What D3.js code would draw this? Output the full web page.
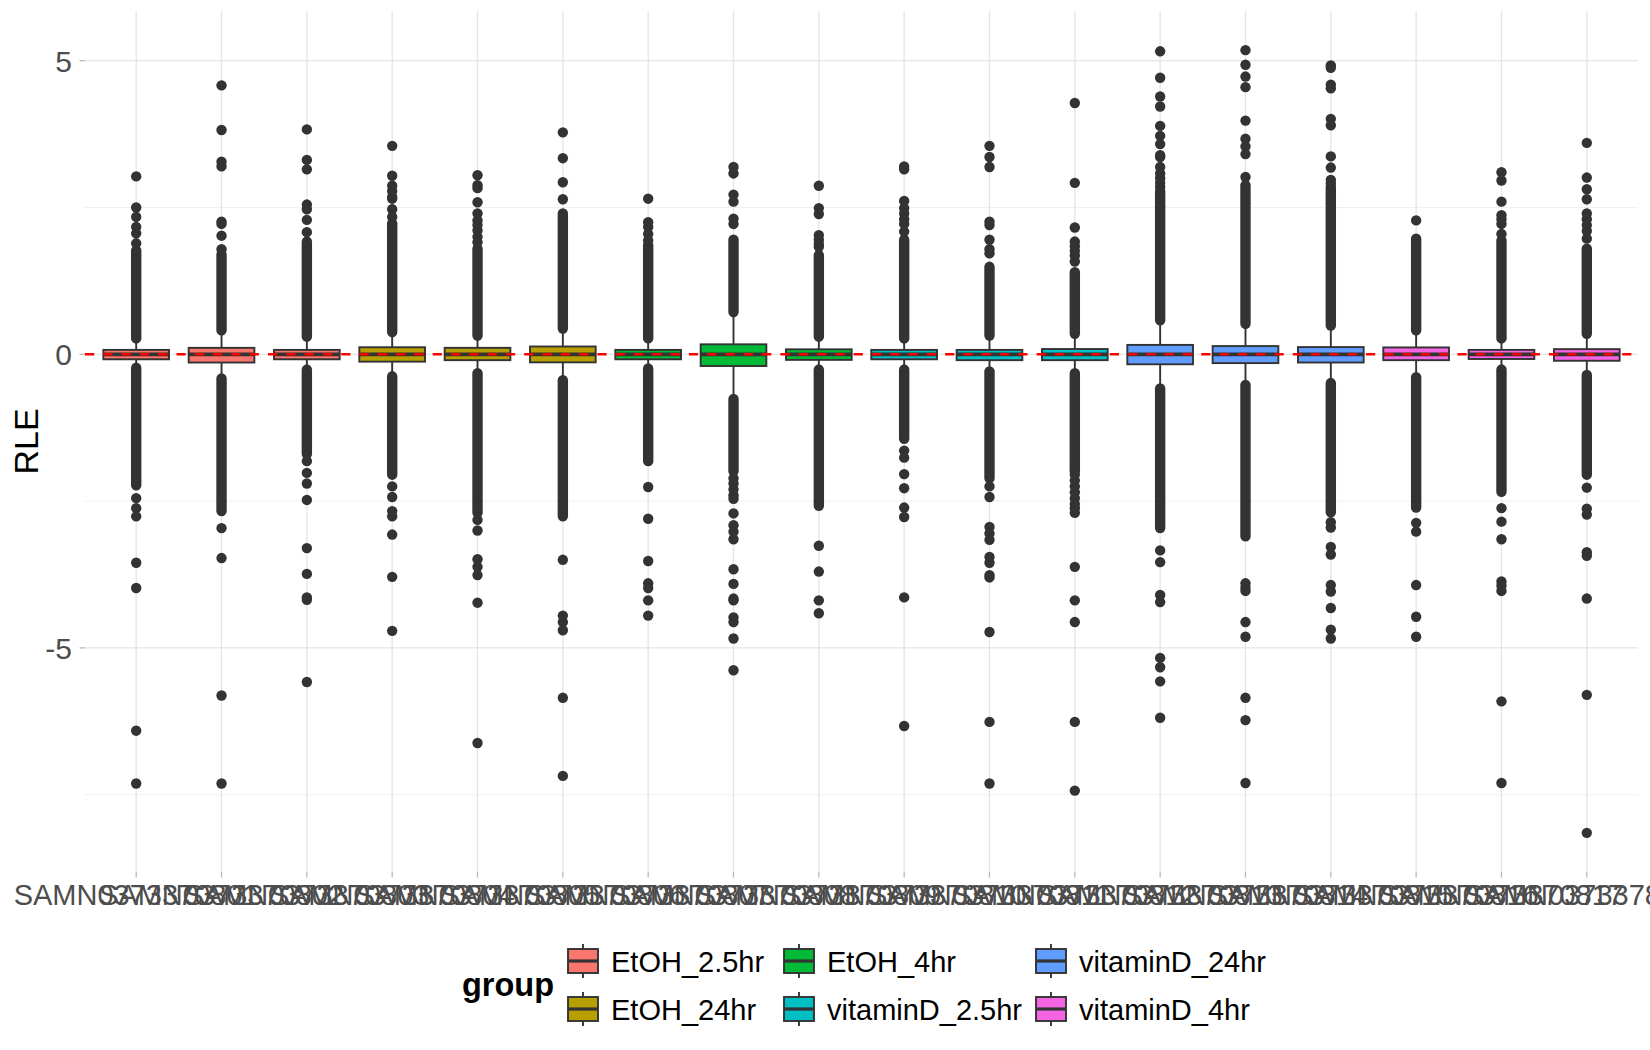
<!DOCTYPE html>
<html>
<head>
<meta charset="utf-8">
<script src="https://cdn.jsdelivr.net/npm/d3@7"></script>
<style>
  body { margin: 0; background: #fff; }
  svg { display: block; font-family: "Liberation Sans", Arial, sans-serif; }
</style>
</head>
<body>
<svg id="chart"></svg>
<script>
// sample ids on the x axis (overlapping labels in the original)
const samples = [
  "SAMN0373370801", "SAMN0373370802", "SAMN0373370803", "SAMN0373370804",
  "SAMN0373370805", "SAMN0373370806", "SAMN0373370807", "SAMN0373370808",
  "SAMN0373370809", "SAMN0373370810", "SAMN0373370811", "SAMN0373370812",
  "SAMN0373370813", "SAMN0373370814", "SAMN0373370815", "SAMN0373370816",
  "SAMN0373370817", "SAMN0373378837"
];
const groups = ["EtOH_2.5hr", "EtOH_24hr", "EtOH_4hr", "vitaminD_2.5hr", "vitaminD_24hr", "vitaminD_4hr"];
const groupColors = ["#F8766D", "#B79F00", "#00BA38", "#00BFC4", "#619CFF", "#F564E3"];
const sampleGroup = [0, 0, 0, 1, 1, 1, 2, 2, 2, 3, 3, 3, 4, 4, 4, 5, 5, 5];

// box statistics per sample
const q1     = [-0.085, -0.14, -0.085, -0.125, -0.10, -0.137, -0.085, -0.20, -0.095, -0.085, -0.10, -0.10, -0.17, -0.15, -0.14, -0.10, -0.08, -0.11];
const median = [0, 0, 0, 0, 0, 0, 0, 0, 0, 0, 0, 0, 0, 0, 0, 0, 0, 0];
const q3     = [0.075, 0.11, 0.075, 0.12, 0.11, 0.133, 0.075, 0.17, 0.085, 0.075, 0.075, 0.09, 0.16, 0.14, 0.123, 0.117, 0.075, 0.088];
const whiskerLow  = [-0.20, -0.37, -0.23, -0.35, -0.29, -0.41, -0.20, -0.73, -0.23, -0.22, -0.25, -0.28, -0.55, -0.46, -0.46, -0.35, -0.20, -0.29];
const whiskerHigh = [0.19, 0.36, 0.25, 0.33, 0.27, 0.39, 0.19, 0.70, 0.25, 0.22, 0.27, 0.30, 0.52, 0.48, 0.45, 0.36, 0.21, 0.30];

// runs of outliers so dense they merge into a solid column
const denseUpper = [
  [0.27, 1.77], [0.41, 1.70], [0.30, 1.92], [0.38, 2.23], [0.32, 1.80], [0.44, 2.40],
  [0.27, 1.86], [0.72, 1.95], [0.30, 1.69], [0.27, 1.95], [0.32, 1.49], [0.35, 1.40],
  [0.58, 2.74], [0.52, 2.88], [0.49, 2.85], [0.41, 1.97], [0.27, 1.94], [0.35, 1.80]
];
const denseLower = [
  [-2.23, -0.23], [-2.67, -0.41], [-1.70, -0.26], [-2.05, -0.375], [-2.70, -0.32], [-2.76, -0.44],
  [-1.82, -0.24], [-1.99, -0.76], [-2.58, -0.26], [-1.44, -0.26], [-2.11, -0.29], [-1.99, -0.32],
  [-2.96, -0.58], [-3.10, -0.52], [-2.69, -0.49], [-2.61, -0.39], [-2.34, -0.26], [-2.05, -0.35]
];
// individually visible outliers
const outliers = [
  [3.03, 2.50, 2.34, 2.17, 2.06, 1.89, -2.45, -2.62, -2.76, -3.55, -3.98, -6.41, -7.31],
  [4.58, 3.82, 3.28, 3.20, 2.26, 2.22, 2.02, 1.79, -2.96, -3.47, -5.81, -7.31],
  [3.83, 3.31, 3.15, 2.55, 2.47, 2.29, 2.08, -1.82, -2.02, -2.20, -2.48, -3.30, -3.74, -4.14, -4.18, -5.58],
  [3.55, 3.04, 2.87, 2.78, 2.68, 2.65, 2.47, 2.34, -2.25, -2.43, -2.67, -2.76, -3.07, -3.79, -4.71],
  [3.05, 2.88, 2.83, 2.59, 2.40, 2.28, 2.20, 2.11, 2.00, 1.91, -2.82, -3.00, -3.49, -3.62, -3.76, -4.23, -6.62],
  [3.78, 3.34, 2.93, 2.64, -3.50, -4.45, -4.56, -4.70, -5.85, -7.18],
  [2.65, 2.25, 2.17, 2.05, 1.94, -2.26, -2.80, -3.52, -3.90, -3.98, -4.19, -4.45],
  [3.19, 3.08, 2.72, 2.60, 2.31, 2.22, -2.11, -2.20, -2.30, -2.40, -2.46, -2.71, -2.91, -3.02, -3.15, -3.66, -3.91, -4.16, -4.19, -4.48, -4.56, -4.84, -5.38],
  [2.87, 2.49, 2.39, 2.03, 1.95, 1.88, 1.83, -3.26, -3.70, -4.19, -4.41],
  [3.20, 3.15, 2.61, 2.49, 2.40, 2.30, 2.22, 2.09, -1.64, -1.76, -2.04, -2.28, -2.61, -2.77, -4.14, -6.33],
  [3.55, 3.36, 3.19, 2.26, 2.20, 1.95, 1.79, 1.72, -2.25, -2.43, -2.94, -3.05, -3.16, -3.45, -3.55, -3.76, -3.80, -4.73, -6.26, -7.31],
  [4.28, 2.92, 2.16, 1.92, 1.84, 1.76, 1.68, 1.58, -2.05, -2.15, -2.25, -2.35, -2.45, -2.55, -2.62, -2.70, -3.62, -4.19, -4.56, -6.26, -7.43],
  [5.16, 4.71, 4.39, 4.22, 3.89, 3.72, 3.58, 3.39, 3.36, 3.19, 3.08, 3.00, 2.92, 2.85, 2.78, -3.34, -3.54, -4.10, -4.22, -5.17, -5.33, -5.57, -6.19],
  [5.18, 4.93, 4.73, 4.55, 3.98, 3.67, 3.54, 3.41, 3.02, -3.90, -3.97, -4.03, -4.56, -4.81, -5.85, -6.23, -7.30],
  [4.92, 4.88, 4.59, 4.53, 4.01, 3.90, 3.37, 3.18, 2.97, 2.91, -2.86, -2.95, -3.28, -3.41, -3.93, -4.04, -4.32, -4.69, -4.84],
  [2.28, -2.87, -3.02, -3.93, -4.47, -4.81],
  [3.10, 2.96, 2.60, 2.37, 2.30, 2.22, 2.05, -2.62, -2.85, -3.15, -3.87, -3.94, -4.03, -5.91, -7.30],
  [3.60, 3.01, 2.81, 2.64, 2.40, 2.30, 2.20, 2.10, 1.97, -2.27, -2.63, -2.73, -3.37, -3.43, -4.16, -5.80, -8.15]
];
const yMajor = [-5, 0, 5];
const yMinor = [-7.5, -2.5, 2.5];
const refLine = 0;

// layout
const W = 1650, H = 1050;
const panel = { left: 85, right: 1638, top: 11, bottom: 872 };
const ink = "#333333";
const ptR = 5.2;

const svg = d3.select("#chart").attr("width", W).attr("height", H);
svg.append("rect").attr("width", W).attr("height", H).attr("fill", "#fff");

const x = d3.scalePoint().domain(samples).range([panel.left, panel.right]).padding(0.6);
const step = x.step();
const boxW = step * 0.77;

const allVals = outliers.flat().concat(denseUpper.flat(), denseLower.flat(), whiskerLow, whiskerHigh);
const [vMin, vMax] = d3.extent(allVals);
const pad = (vMax - vMin) * 0.05;
const y = d3.scaleLinear().domain([vMin - pad, vMax + pad]).range([panel.bottom, panel.top]);

// grid
const grid = svg.append("g");
grid.selectAll(".minor").data(yMinor).join("line")
  .attr("x1", panel.left).attr("x2", panel.right)
  .attr("y1", d => y(d)).attr("y2", d => y(d))
  .attr("stroke", "#F0F0F0").attr("stroke-width", 1);
grid.selectAll(".major").data(yMajor).join("line")
  .attr("x1", panel.left).attr("x2", panel.right)
  .attr("y1", d => y(d)).attr("y2", d => y(d))
  .attr("stroke", "#E5E5E5").attr("stroke-width", 1.3);
grid.selectAll(".vx").data(samples).join("line")
  .attr("x1", d => x(d)).attr("x2", d => x(d))
  .attr("y1", panel.top).attr("y2", panel.bottom)
  .attr("stroke", "#E5E5E5").attr("stroke-width", 1.3);

// boxplots
const boxes = svg.append("g");
samples.forEach((s, i) => {
  const cx = x(s);
  const g = boxes.append("g");
  const col = groupColors[sampleGroup[i]];

  [denseUpper[i], denseLower[i]].forEach(([lo, hi]) => {
    g.append("line")
      .attr("x1", cx).attr("x2", cx)
      .attr("y1", y(lo)).attr("y2", y(hi))
      .attr("stroke", ink).attr("stroke-width", ptR * 2)
      .attr("stroke-linecap", "round");
  });
  g.selectAll("circle").data(outliers[i]).join("circle")
    .attr("cx", cx).attr("cy", d => y(d)).attr("r", ptR)
    .attr("fill", ink);

  // whiskers
  g.append("line").attr("x1", cx).attr("x2", cx)
    .attr("y1", y(q3[i])).attr("y2", y(whiskerHigh[i]))
    .attr("stroke", ink).attr("stroke-width", 1.9);
  g.append("line").attr("x1", cx).attr("x2", cx)
    .attr("y1", y(q1[i])).attr("y2", y(whiskerLow[i]))
    .attr("stroke", ink).attr("stroke-width", 1.9);

  g.append("rect")
    .attr("x", cx - boxW / 2).attr("width", boxW)
    .attr("y", y(q3[i])).attr("height", y(q1[i]) - y(q3[i]))
    .attr("fill", col).attr("stroke", ink).attr("stroke-width", 1.9);
  g.append("line")
    .attr("x1", cx - boxW / 2).attr("x2", cx + boxW / 2)
    .attr("y1", y(median[i])).attr("y2", y(median[i]))
    .attr("stroke", ink).attr("stroke-width", 3.8);
});

// reference line
svg.append("line")
  .attr("x1", panel.left).attr("x2", panel.right)
  .attr("y1", y(refLine)).attr("y2", y(refLine))
  .attr("stroke", "#FF0000").attr("stroke-width", 2.6)
  .attr("stroke-dasharray", "9.2,9.1");

// axes
const axisG = svg.append("g");
axisG.selectAll(".xt").data(samples).join("line")
  .attr("x1", d => x(d)).attr("x2", d => x(d))
  .attr("y1", panel.bottom).attr("y2", panel.bottom + 5.5)
  .attr("stroke", "#B3B3B3").attr("stroke-width", 1.2);
axisG.selectAll(".xl").data(samples).join("text")
  .attr("x", d => x(d)).attr("y", 905)
  .attr("text-anchor", "middle")
  .attr("font-size", 29).attr("fill", "#4D4D4D")
  .text(d => d);

axisG.selectAll(".yt").data(yMajor).join("line")
  .attr("x1", panel.left - 5.5).attr("x2", panel.left)
  .attr("y1", d => y(d)).attr("y2", d => y(d))
  .attr("stroke", "#B3B3B3").attr("stroke-width", 1.2);
axisG.selectAll(".yl").data(yMajor).join("text")
  .attr("x", 72).attr("y", d => y(d) + 11)
  .attr("text-anchor", "end")
  .attr("font-size", 30).attr("fill", "#4D4D4D")
  .text(d => String(d));

svg.append("text")
  .attr("transform", `translate(38,${(panel.top + panel.bottom) / 2}) rotate(-90)`)
  .attr("text-anchor", "middle")
  .attr("font-size", 34).attr("fill", "#000")
  .text("RLE");

// legend (column-wise, 2 rows)
const legend = svg.append("g");
legend.append("text")
  .attr("x", 462).attr("y", 996)
  .attr("font-size", 32.5).attr("font-weight", "bold").attr("fill", "#000")
  .text("group");
const colLeft = [568, 784, 1036];
const rowMid = [961, 1009];
const keyW = 30, keyBoxH = 24, keyWhisk = 17;
groups.forEach((gname, k) => {
  const kx = colLeft[Math.floor(k / 2)];
  const ky = rowMid[k % 2];
  const item = legend.append("g");
  item.append("line")
    .attr("x1", kx + keyW / 2).attr("x2", kx + keyW / 2)
    .attr("y1", ky - keyWhisk).attr("y2", ky + keyWhisk)
    .attr("stroke", ink).attr("stroke-width", 1.9);
  item.append("rect")
    .attr("x", kx).attr("y", ky - keyBoxH / 2)
    .attr("width", keyW).attr("height", keyBoxH)
    .attr("fill", groupColors[k]).attr("stroke", ink).attr("stroke-width", 1.9);
  item.append("line")
    .attr("x1", kx).attr("x2", kx + keyW)
    .attr("y1", ky).attr("y2", ky)
    .attr("stroke", ink).attr("stroke-width", 3.2);
  item.append("text")
    .attr("x", kx + 43).attr("y", ky + 10.5)
    .attr("font-size", 29).attr("fill", "#000")
    .text(gname);
});
</script>
</body>
</html>
